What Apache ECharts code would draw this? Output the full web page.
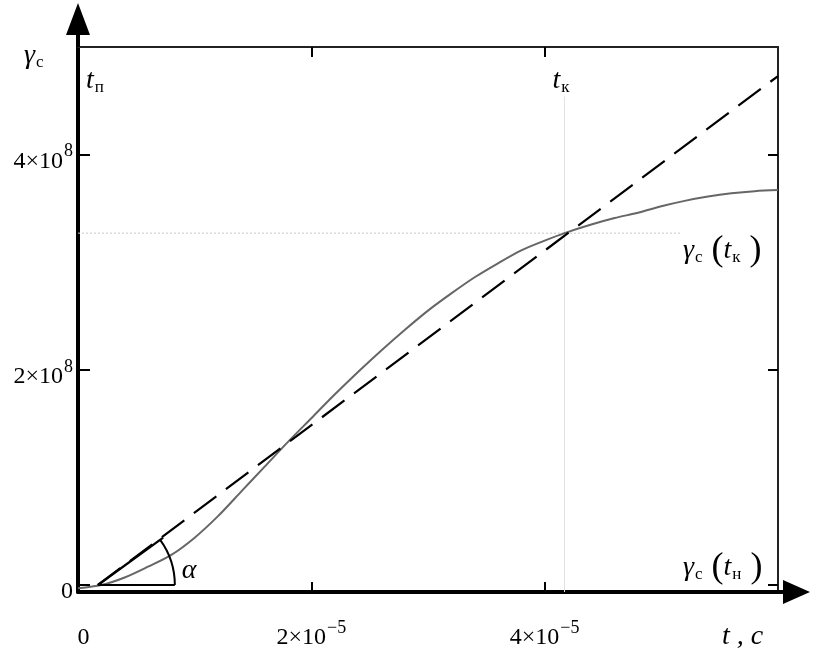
<!DOCTYPE html>
<html><head><meta charset="utf-8">
<script src="https://cdn.jsdelivr.net/npm/echarts@6/dist/echarts.min.js"></script>
<style>html,body{margin:0;padding:0;background:#fff}#c{width:828px;height:660px}</style>
</head><body><div id="c"></div>
<script>
// time in units of 1e-5 s, gamma in units of 1e8
const curveT     = [0, 0.2, 0.4, 0.6, 0.8, 1.0, 1.2, 1.4, 1.6, 1.8, 2.0, 2.2, 2.4, 2.6, 2.8, 3.0, 3.2, 3.4, 3.6, 3.8, 4.0, 4.17, 4.4, 4.6, 4.8, 5.0, 5.2, 5.4, 5.6, 5.8, 6.0];
const curveGamma = [-0.03, 0.0, 0.07, 0.17, 0.28, 0.44, 0.64, 0.87, 1.10, 1.33, 1.55, 1.77, 1.98, 2.18, 2.37, 2.55, 2.71, 2.86, 2.99, 3.11, 3.20, 3.27, 3.35, 3.41, 3.46, 3.52, 3.57, 3.61, 3.64, 3.66, 3.67];
const tangentT     = [0.17, 6.0];
const tangentGamma = [0.0, 4.73];
const angleT     = [0.17, 0.73];
const angleGamma = [0.0, 0.44];
const angleBaseT = 0.83;
const tK = 4.17;
const gammaTK = 3.27;
const tKLineTop = 4.54;
const gammaTKLineEnd = 5.16;
const xTickValues = [2, 4];
const xLabelValues = [0, 2, 4];
const yTickValues = [0, 2, 4];
const xMin = 0, xMax = 6, yMin = -0.065, yMax = 5;

const F = '"Liberation Serif","DejaVu Serif",serif';
const zip = (a, b) => a.map((v, i) => [v, b[i]]);
const arrowY = 'path://M12,0 L24,32 L14,32 L14,44 L10,44 L10,32 L0,32 Z';
const arrowX = 'path://M12,0 L24,27 L14,27 L14,32 L10,32 L10,27 L0,27 Z';

const tickRich = {
  z: {fontFamily: F, fontSize: 24, color: '#000', padding: [14, 0, 0, 11]},
  m: {fontFamily: F, fontSize: 24, color: '#000', padding: [14, 0, 0, 0]},
  s: {fontFamily: F, fontSize: 18, color: '#000', padding: [0, 0, 6, 1]}
};

const chart = echarts.init(document.getElementById('c'), null, {renderer: 'canvas'});
const grid = {left: 78, right: 50, top: 47, bottom: 68};

const option = {
  backgroundColor: '#fff',
  animation: false,
  grid: grid,
  xAxis: [{
    type: 'value', min: xMin, max: xMax, position: 'bottom',
    splitLine: {show: false},
    axisLine: {show: true, onZero: false, lineStyle: {color: '#000', width: 4},
      symbol: ['none', arrowX], symbolSize: [24, 32], symbolOffset: [0, 16]},
    axisTick: {show: true, inside: true, length: 10, customValues: xTickValues, lineStyle: {color: '#000', width: 2}},
    axisLabel: {show: true, customValues: xLabelValues, margin: 20,
      formatter: v => v === 0 ? '{z|0}' : '{m|' + v + '×10}{s|−5}',
      rich: tickRich}
  }, {
    type: 'value', min: xMin, max: xMax, position: 'top',
    splitLine: {show: false},
    axisLine: {show: true, onZero: false, lineStyle: {color: '#222', width: 2}},
    axisTick: {show: true, inside: true, length: 10, customValues: xTickValues, lineStyle: {color: '#000', width: 2}},
    axisLabel: {show: false}
  }],
  yAxis: [{
    type: 'value', min: yMin, max: yMax, position: 'left',
    splitLine: {show: false},
    axisLine: {show: true, onZero: false, lineStyle: {color: '#000', width: 4},
      symbol: ['none', arrowY], symbolSize: [24, 44], symbolOffset: [0, 22]},
    axisTick: {show: true, inside: true, length: 12, customValues: yTickValues, lineStyle: {color: '#000', width: 2}},
    axisLabel: {show: true, customValues: yTickValues, margin: 5,
      formatter: v => v === 0 ? '{m|0}' : '{m|' + v + '×10}{s|8}',
      rich: tickRich}
  }, {
    type: 'value', min: yMin, max: yMax, position: 'right',
    splitLine: {show: false},
    axisLine: {show: true, onZero: false, lineStyle: {color: '#222', width: 2}},
    axisTick: {show: true, inside: true, length: 10, customValues: yTickValues, lineStyle: {color: '#000', width: 2}},
    axisLabel: {show: false}
  }],
  series: [
    {type: 'line', name: 'tk-vertical', data: [[tK, yMin], [tK, tKLineTop]], showSymbol: false, silent: true,
      lineStyle: {color: '#e2e2e2', width: 1}, z: 1},
    {type: 'line', name: 'gammaTK-horizontal', data: [[xMin, gammaTK], [gammaTKLineEnd, gammaTK]], showSymbol: false, silent: true,
      lineStyle: {color: '#c8c8c8', width: 1, type: [2, 2]}, z: 1},
    {type: 'line', name: 'tangent', data: zip(tangentT, tangentGamma), showSymbol: false,
      lineStyle: {color: '#000', width: 2.2, type: [28, 12]}, z: 3},
    {type: 'line', name: 'gamma', data: zip(curveT, curveGamma), showSymbol: false, smooth: 0.3,
      lineStyle: {color: '#666', width: 2}, z: 2},
    {type: 'line', name: 'angle', data: zip(angleT, angleGamma), showSymbol: false,
      lineStyle: {color: '#000', width: 2.2}, z: 4},
    {type: 'custom', name: 'angle-arc', data: [[angleT[0], angleGamma[0], angleBaseT, angleT[1], angleGamma[1]]], z: 4,
      renderItem: function (params, api) {
        const c = api.coord([api.value(0), api.value(1)]);
        const b = api.coord([api.value(2), api.value(1)]);
        const e = api.coord([api.value(3), api.value(4)]);
        const r = b[0] - c[0];
        const ang = Math.atan2(e[1] - c[1], e[0] - c[0]);
        return {type: 'group', children: [
          {type: 'line', shape: {x1: c[0], y1: c[1], x2: b[0], y2: b[1]}, style: {stroke: '#000', lineWidth: 2}},
          {type: 'arc', shape: {cx: c[0], cy: c[1], r: r, startAngle: ang, endAngle: 0, clockwise: true}, style: {stroke: '#000', lineWidth: 2, fill: null}}
        ]};
      }}
  ]
};
chart.setOption(option);

const P = v => chart.convertToPixel({xAxisIndex: 0, yAxisIndex: 0}, v);
const tl = P([xMin, yMax]);
const br = P([xMax, yMin]);
const pk = P([tK, gammaTK]);
const pa = P([angleBaseT, 0]);
const rich = {
  g: {fontFamily: F, fontStyle: 'italic', fontSize: 28, fill: '#000'},
  t: {fontFamily: F, fontStyle: 'italic', fontSize: 28, fill: '#000'},
  s: {fontFamily: F, fontSize: 17, fill: '#000', padding: [14, 0, 0, 1]},
  p: {fontFamily: F, fontSize: 36, fill: '#000'},
  n: {fontFamily: F, fontSize: 26, fill: '#000'}
};
function txt(x, y, text, align) {
  return {type: 'text', x: x, y: y, silent: true, z: 20,
    style: {text: text, rich: rich, align: align || 'left', verticalAlign: 'middle', fill: '#000',
      fontFamily: F, fontSize: 26}};
}
chart.setOption({
  graphic: [
    txt(tl[0] - 54, tl[1] + 9, '{g|γ}{s|c}'),
    txt(tl[0] + 8, tl[1] + 34, '{t|t}{s|п}'),
    txt(pk[0] - 12, tl[1] + 34, '{t|t}{s|к}'),
    txt(br[0] - 95, pk[1] + 17, '{g|γ}{s|c}{p| (}{t|t}{s|к}{p| )}'),
    txt(br[0] - 95, br[1] - 24, '{g|γ}{s|c}{p| (}{t|t}{s|н}{p| )}'),
    txt(pa[0] + 7, pa[1] - 14, '{g|α}'),
    txt(br[0] - 56, br[1] + 45, '{t|t , c}')
  ]
});
</script></body></html>
